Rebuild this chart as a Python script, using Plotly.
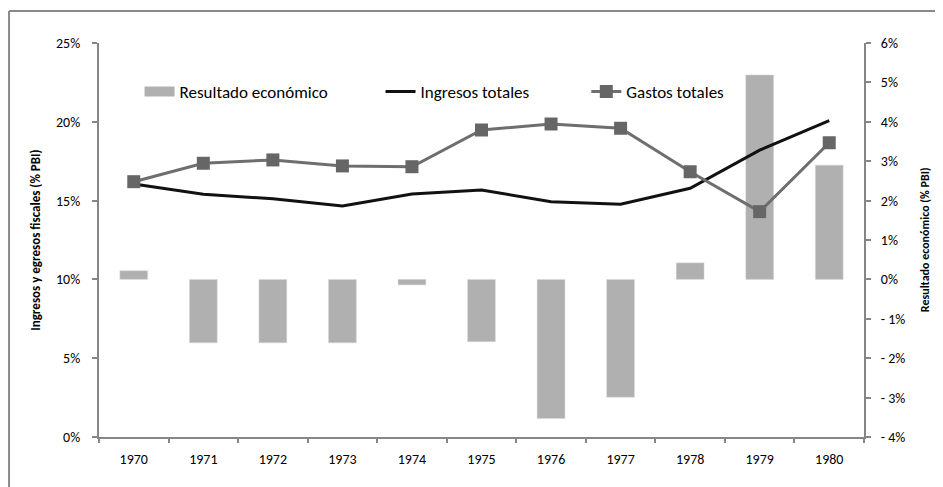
import plotly.graph_objects as go

# Data
years = ["1970", "1971", "1972", "1973", "1974", "1975", "1976", "1977", "1978", "1979", "1980"]
resultado = [0.22, -1.61, -1.61, -1.61, -0.14, -1.58, -3.53, -2.99, 0.42, 5.19, 2.90]
ingresos = [16.05, 15.4, 15.12, 14.66, 15.42, 15.67, 14.93, 14.77, 15.78, 18.2, 20.07]
gastos = [16.2, 17.37, 17.58, 17.2, 17.15, 19.48, 19.86, 19.59, 16.83, 14.3, 18.67]

left_ticks = [0, 5, 10, 15, 20, 25]
left_labels = ["0%", "5%", "10%", "15%", "20%", "25%"]
right_ticks = [-4, -3, -2, -1, 0, 1, 2, 3, 4, 5, 6]
right_labels = ["- 4%", "- 3%", "- 2%", "- 1%", "0%", "1%", "2%", "3%", "4%", "5%", "6%"]

FONT = "Calibri, Carlito, 'Open Sans', sans-serif"
AXIS_GREY = "#868686"
BAR_GREY = "#b0b0b0"

fig = go.Figure()

# Bars on primary axis (drawn underneath), shown on the right side
fig.add_trace(go.Bar(
    x=years, y=resultado, name="Resultado económico",
    marker=dict(color=BAR_GREY, line=dict(color="#d8d8d8", width=0.5)),
    width=0.4, yaxis="y", showlegend=False,
))
# legend entry for the bars: wide grey box like the Excel key
fig.add_trace(go.Scatter(
    x=[None], y=[None], name="Resultado económico", mode="lines",
    line=dict(color=BAR_GREY, width=10), yaxis="y", legend="legend", showlegend=True,
))

# Lines on overlay axis, shown on the left side
fig.add_trace(go.Scatter(
    x=years, y=ingresos, name="Ingresos totales", mode="lines",
    line=dict(color="#111111", width=3), yaxis="y2", legend="legend2", showlegend=True,
))
fig.add_trace(go.Scatter(
    x=years, y=gastos, name="Gastos totales", mode="lines+markers",
    line=dict(color="#6e6e6e", width=3),
    marker=dict(symbol="square", size=13, color="#666666"),
    yaxis="y2", legend="legend3", showlegend=True,
))

legend_common = dict(
    orientation="h", yanchor="middle", xanchor="left", y=0.876,
    bgcolor="rgba(0,0,0,0)", font=dict(family=FONT, size=17, color="#000"),
    itemwidth=30,
)

fig.update_layout(
    width=943, height=487,
    margin=dict(l=91, r=87, t=35, b=58),
    plot_bgcolor="white", paper_bgcolor="white",
    font=dict(family=FONT, size=14, color="#000"),
    showlegend=True,
    legend=dict(legend_common, x=0.053),
    legend2=dict(legend_common, x=0.368),
    legend3=dict(legend_common, x=0.637),
    xaxis=dict(
        type="category", range=[-0.5, len(years) - 0.5],
        showgrid=False, showline=True, linecolor=AXIS_GREY, linewidth=2,
        ticks="outside", tickson="boundaries", ticklen=4, tickwidth=2, tickcolor=AXIS_GREY,
        tickfont=dict(size=14), zeroline=False, ticklabelstandoff=8,
    ),
    yaxis=dict(
        side="right", range=[-4, 6], tickvals=right_ticks, ticktext=right_labels,
        showgrid=False, zeroline=False, showline=True, linecolor=AXIS_GREY, linewidth=2,
        ticks="outside", ticklen=5, tickwidth=2, tickcolor=AXIS_GREY, tickfont=dict(size=14),
        ticklabelstandoff=7,
    ),
    yaxis2=dict(
        overlaying="y", side="left", range=[0, 25], tickvals=left_ticks, ticktext=left_labels,
        showgrid=False, zeroline=False, showline=True, linecolor=AXIS_GREY, linewidth=2,
        ticks="outside", ticklen=5, tickwidth=2, tickcolor=AXIS_GREY, tickfont=dict(size=14),
        ticklabelstandoff=9,
    ),
    annotations=[
        dict(text="<b>Ingresos y egresos fiscales (% PBI)</b>", textangle=-90,
             xref="paper", yref="paper", x=-0.084, y=0.5, showarrow=False,
             xanchor="center", yanchor="middle", font=dict(size=13)),
        dict(text="<b>Resultado económico (% PBI)</b>", textangle=-90,
             xref="paper", yref="paper", x=1.08, y=0.5, showarrow=False,
             xanchor="center", yanchor="middle", font=dict(size=12)),
    ],
    shapes=[
        dict(type="line", xref="paper", yref="paper", x0=-0.1176, x1=-0.1176, y0=1.0812, y1=-0.3,
             line=dict(color="#8a8a8a", width=2)),
        dict(type="line", xref="paper", yref="paper", x0=-0.1176, x1=1.2, y0=1.0812, y1=1.0812,
             line=dict(color="#8a8a8a", width=2)),
    ],
)

fig.write_html("out.html")
